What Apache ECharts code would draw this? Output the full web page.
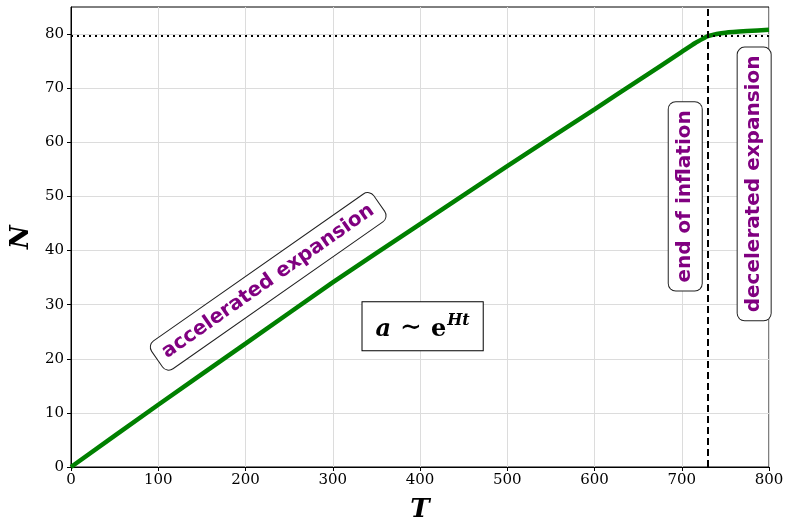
<!DOCTYPE html>
<html>
<head>
<meta charset="utf-8">
<script src="https://cdn.jsdelivr.net/npm/echarts@6/dist/echarts.min.js"></script>
<style>html,body{margin:0;padding:0;background:#fff}#c{width:786px;height:521px}</style>
</head>
<body>
<div id="c"></div>
<script>
// Data
var T = [0, 100, 200, 300, 400, 500, 600, 650, 700, 715, 725, 730, 740, 750, 775, 800];
var N = [0, 11.5, 22.8, 34.1, 44.9, 55.6, 66.1, 71.4, 76.7, 78.3, 79.2, 79.6, 80.0, 80.25, 80.55, 80.8];
var xTicks = [0, 100, 200, 300, 400, 500, 600, 700, 800];
var yTicks = [0, 10, 20, 30, 40, 50, 60, 70, 80];
var endT = 730;
var endN = 79.6;
var labels = {
  accel: 'accelerated expansion',
  end: 'end of inflation',
  decel: 'decelerated expansion'
};
var accelPos = [226, 34.3];
var endPos = [704, 50.0];
var decelPos = [783, 52.3];
var formulaPos = [403, 26.0];

var chart = echarts.init(document.getElementById('c'));
var serif = '"DejaVu Serif", "Liberation Serif", serif';
var option = {
  animation: false,
  grid: { left: 71, right: 17, top: 7, bottom: 54, outerBoundsMode: 'none', containLabel: false,
    show: true, borderColor: '#000', borderWidth: 1, backgroundColor: 'transparent' },
  xAxis: {
    type: 'value', min: 0, max: 800, interval: 100,
    name: 'T', nameLocation: 'middle', nameGap: 30,
    nameTextStyle: { fontFamily: serif, fontStyle: 'italic', fontWeight: 'bold', fontSize: 26, color: '#000' },
    axisLine: { show: true, lineStyle: { color: '#000', width: 1 } },
    axisTick: { show: true, inside: false, length: 4, lineStyle: { color: '#000' }, customValues: xTicks },
    axisLabel: { fontFamily: serif, fontSize: 15, color: '#000', margin: 6, customValues: xTicks },
    splitLine: { show: true, lineStyle: { color: '#dcdcdc', width: 1 } }
  },
  yAxis: {
    type: 'value', min: 0, max: 85, interval: 10,
    name: 'N', nameLocation: 'middle', nameGap: 30, nameRotate: 90,
    nameTextStyle: { fontFamily: serif, fontStyle: 'italic', fontWeight: 'bold', fontSize: 26, color: '#000' },
    axisLine: { show: true, lineStyle: { color: '#000', width: 1 } },
    axisTick: { show: true, inside: false, length: 4, lineStyle: { color: '#000' }, customValues: yTicks },
    axisLabel: { fontFamily: serif, fontSize: 15, color: '#000', margin: 7, customValues: yTicks },
    splitLine: { show: true, lineStyle: { color: '#dcdcdc', width: 1 } }
  },
  series: [{
    type: 'line',
    data: T.map(function (t, i) { return [t, N[i]]; }),
    smooth: 0.2,
    showSymbol: false,
    lineStyle: { color: '#008000', width: 4.5 },
    z: 3,
    markLine: {
      silent: true, symbol: 'none', label: { show: false },
      data: [
        { xAxis: endT, lineStyle: { color: '#000', type: [7, 4], width: 2 } },
        { yAxis: endN, lineStyle: { color: '#000', type: [2, 4], width: 2 } }
      ]
    }
  }]
};
chart.setOption(option);

function px(p) { return chart.convertToPixel({ gridIndex: 0 }, p); }
var boxStyle = {
  fill: '#800080',
  font: 'bold 20px "DejaVu Sans", sans-serif',
  backgroundColor: '#fff',
  borderColor: '#222',
  borderWidth: 1,
  borderRadius: 7,
  padding: [7, 8, 6, 8],
  align: 'center',
  verticalAlign: 'middle'
};
function box(text, pos, rot) {
  var p = px(pos);
  return { type: 'text', x: p[0], y: p[1], rotation: rot, z: 10,
    style: Object.assign({ text: text }, boxStyle) };
}
var fp = px(formulaPos);
chart.setOption({
  graphic: [
    box(labels.accel, accelPos, 35 * Math.PI / 180),
    box(labels.end, endPos, Math.PI / 2),
    box(labels.decel, decelPos, Math.PI / 2),
    {
      type: 'text', x: fp[0], y: fp[1], z: 10,
      style: {
        text: '{a|a}{s| ∼ }{e|e}{h|Ht}',
        align: 'center', verticalAlign: 'middle',
        backgroundColor: '#fff', borderColor: '#000', borderWidth: 1,
        padding: [11, 13, 9, 13],
        rich: {
          a: { font: 'bold italic 24px ' + serif, fill: '#000', verticalAlign: 'bottom' },
          s: { font: 'bold 26px ' + serif, fill: '#000', verticalAlign: 'bottom' },
          e: { font: 'bold 24px ' + serif, fill: '#000', verticalAlign: 'bottom' },
          h: { font: 'bold italic 16px ' + serif, fill: '#000', verticalAlign: 'top', padding: [0, 0, 12, 1] }
        }
      }
    }
  ]
});
</script>
</body>
</html>
